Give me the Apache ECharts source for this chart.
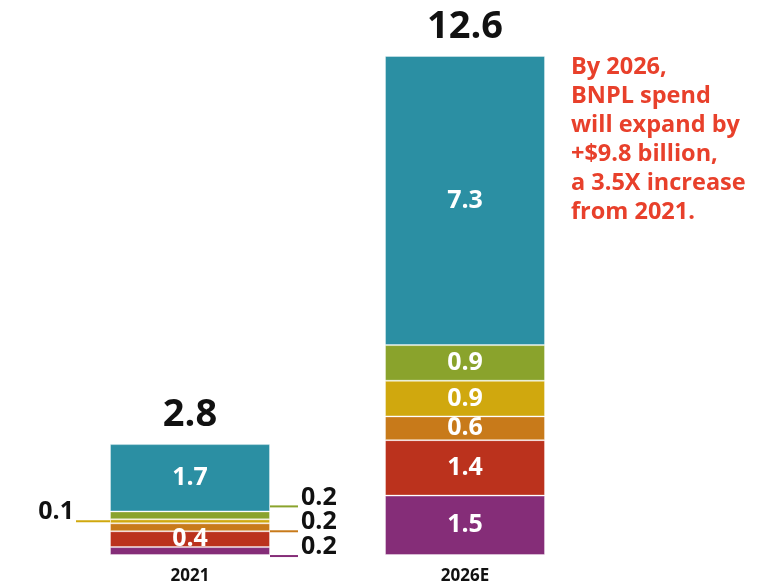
<!DOCTYPE html>
<html>
<head>
<meta charset="utf-8">
<script src="https://cdn.jsdelivr.net/npm/echarts@6/dist/echarts.min.js"></script>
<style>
  html, body { margin: 0; background: #fff; }
  #chart { width: 767px; height: 587px; }
</style>
</head>
<body>
<div id="chart"></div>
<script>
// BNPL spend ($ billion), stacked bottom to top
const categories = ['2021', '2026E'];
const purple = [0.2, 1.5];
const red = [0.4, 1.4];
const orange = [0.2, 0.6];
const yellow = [0.1, 0.9];
const olive = [0.2, 0.9];
const teal = [1.7, 7.3];
const note = ['By 2026,', 'BNPL spend', 'will expand by', '+$9.8 billion,', 'a 3.5X increase', 'from 2021.'];

const layers = [
  { name: 'purple', data: purple, color: '#852d78' },
  { name: 'red', data: red, color: '#bb321d' },
  { name: 'orange', data: orange, color: '#c87a1a' },
  { name: 'yellow', data: yellow, color: '#d0a80e' },
  { name: 'olive', data: olive, color: '#8aa32c' },
  { name: 'teal', data: teal, color: '#2b8fa3' }
];

// small 2021 pieces get their label outside, with a short leader: [side, dy]
const outside = {
  purple: ['right', -4],
  orange: ['right', -5],
  yellow: ['left', -9],
  olive: ['right', -18]
};

const totals = categories.map((c, i) => layers.reduce((s, l) => s + l.data[i], 0));

const font = 'Open Sans';

function outsideLabel(l, v) {
  const side = outside[l.name][0];
  const txt = v.toFixed(1);
  return {
    position: side,
    distance: 0,
    offset: [0, outside[l.name][1]],
    formatter: side === 'right' ? '{l|}{v|' + txt + '}' : '{v|' + txt + '}{l|}',
    rich: {
      l: { width: side === 'right' ? 28 : 34, height: 2, backgroundColor: l.color, verticalAlign: 'bottom' },
      v: {
        color: '#111', fontFamily: font, fontWeight: 'bold', fontSize: 25, lineHeight: 20,
        padding: side === 'right' ? [0, 0, 0, 3] : [0, 2, 0, 0]
      }
    }
  };
}

const series = layers.map(l => ({
  name: l.name,
  type: 'bar',
  stack: 'spend',
  barWidth: 160,
  itemStyle: { color: l.color, borderColor: 'rgba(255,255,255,0.35)', borderWidth: 1 },
  label: {
    show: true,
    position: 'inside',
    color: '#fff',
    fontFamily: font,
    fontWeight: 'bold',
    fontSize: 25,
    formatter: p => p.value.toFixed(1)
  },
  data: l.data.map((v, i) => (i === 0 && outside[l.name]) ? { value: v, label: outsideLabel(l, v) } : v)
}));

// empty bar on top of each stack carrying the total
series.push({
  name: 'total',
  type: 'bar',
  stack: 'spend',
  barWidth: 160,
  itemStyle: { color: 'transparent' },
  label: {
    show: true,
    position: 'top',
    distance: 10,
    color: '#111',
    fontFamily: font,
    fontWeight: 'bold',
    fontSize: 38,
    formatter: p => totals[p.dataIndex].toFixed(1)
  },
  data: categories.map(() => 0)
});

const chart = echarts.init(document.getElementById('chart'));
chart.setOption({
  animation: false,
  title: {
    text: note.join('\n'),
    left: 566,
    top: 48,
    textStyle: {
      color: '#e8402b',
      fontFamily: font,
      fontWeight: 'bold',
      fontSize: 23.5,
      lineHeight: 29
    }
  },
  grid: { left: 52.5, right: 164.5, top: 56, bottom: 32 },
  xAxis: {
    type: 'category',
    data: categories,
    axisLine: { show: false },
    axisTick: { show: false },
    axisLabel: {
      margin: 13,
      color: '#111',
      fontFamily: font,
      fontWeight: 'bold',
      fontSize: 17
    }
  },
  yAxis: {
    type: 'value',
    min: 0,
    max: Math.max(...totals),
    show: false,
    splitLine: { show: false }
  },
  series: series
});
</script>
</body>
</html>
